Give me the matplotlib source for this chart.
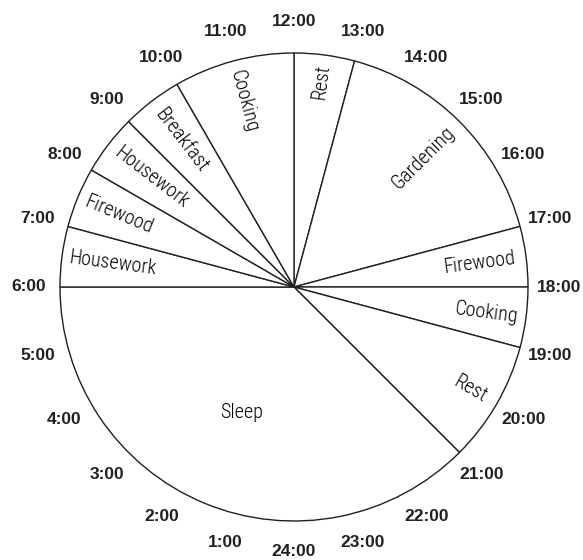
import numpy as np
import matplotlib
matplotlib.use("Agg")
import matplotlib.pyplot as plt

# activities going clockwise from 12:00 (top), durations in hours
activities = ["Rest", "Gardening", "Firewood", "Cooking", "Rest", "Sleep",
              "Housework", "Firewood", "Housework", "Breakfast", "Cooking"]
hours = [1, 4, 1, 1, 2, 9, 1, 1, 1, 1, 2]
hour_labels = [f"{h}:00" for h in range(1, 25)]

# how far out each activity label sits (fraction of radius)
label_r = [0.885, 0.78, 0.80, 0.83, 0.87, 0.58, 0.78, 0.81, 0.77, 0.79, 0.82]

W, H = 583, 560
fig = plt.figure(figsize=(W / 100, H / 100), dpi=100)
ax = fig.add_axes([0, 0, 1, 1])
ax.set_xlim(0, W)
ax.set_ylim(0, H)
ax.set_aspect("equal")
ax.axis("off")

cx, cy, R = 294, H - 287, 234
ink = "#231f20"

ax.pie(hours, startangle=90, counterclock=False, center=(cx, cy), radius=R,
       wedgeprops=dict(facecolor="white", edgecolor=ink, linewidth=1.0))
ax.set_xlim(0, W)
ax.set_ylim(0, H)

narrow = ["Roboto Condensed", "Liberation Sans Narrow", "Roboto", "DejaVu Sans"]

start = 12
for name, dur, fr in zip(activities, hours, label_r):
    mid = start + dur / 2
    ang = 90 - (mid - 12) * 15
    a = np.deg2rad(ang)
    x = cx + fr * R * np.cos(a)
    y = cy + fr * R * np.sin(a)
    rot = ((ang + 180) % 360) - 180
    if rot > 90:
        rot -= 180
    elif rot < -90:
        rot += 180
    if name == "Sleep":
        rot = 0
    ax.text(x, y, name, rotation=rot, rotation_mode="anchor", ha="center",
            va="center", fontsize=14.5, fontweight="light", family=narrow,
            color="#000000")
    start += dur

for i, lab in enumerate(hour_labels):
    h = i + 1
    a = np.deg2rad(90 - (h - 12) * 15)
    ax.text(cx + 265 * np.cos(a), cy + 265 * np.sin(a), lab, ha="center",
            va="center", fontsize=12.5, fontweight="bold",
            family=["Liberation Sans", "DejaVu Sans"], color=ink)

fig.savefig("out.png", dpi=100)
